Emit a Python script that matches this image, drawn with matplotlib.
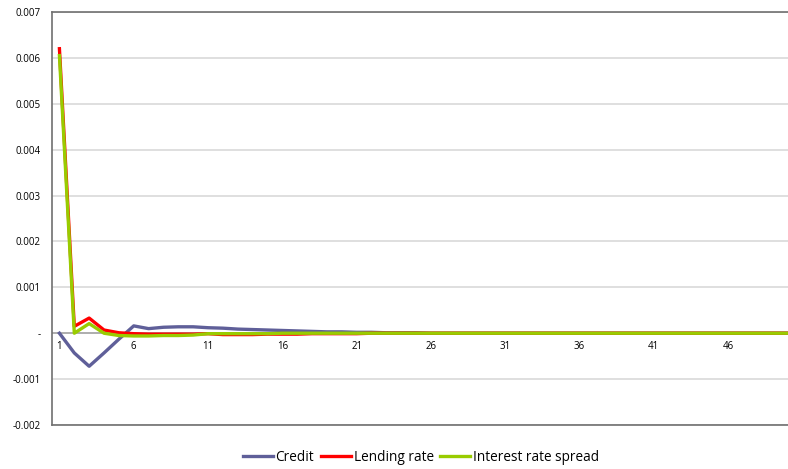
import matplotlib.pyplot as plt
import numpy as np

# impulse responses, periods 1..50
periods = list(range(1, 51))
credit = [0, -0.00043, -0.00072, -0.00043, -0.00013, 0.00016, 0.00010, 0.00013, 0.00014, 0.00014,
          0.00012, 0.00011, 0.00009, 0.00008, 0.00007, 0.00006, 0.00005, 0.00004, 0.00003, 0.00003,
          0.00002, 0.00002, 0.00001, 0.00001, 0.00001, 0, 0, 0, 0, 0,
          0, 0, 0, 0, 0, 0, 0, 0, 0, 0,
          0, 0, 0, 0, 0, 0, 0, 0, 0, 0]
lending = [0.0062, 0.00015, 0.00033, 0.00007, 0.00001, -0.00001, -0.00002, -0.00002, -0.00002, -0.00002,
           -0.00001, -0.00003, -0.00003, -0.00003, -0.00002, -0.00002, -0.00002, -0.00001, -0.00001, -0.00001,
           -0.00001, 0, 0, 0, 0, 0, 0, 0, 0, 0,
           0, 0, 0, 0, 0, 0, 0, 0, 0, 0,
           0, 0, 0, 0, 0, 0, 0, 0, 0, 0]
spread = [0.00605, 0.0, 0.00021, 0.0, -0.00005, -0.00006, -0.00006, -0.00005, -0.00005, -0.00004,
          -0.00001, -0.00001, -0.00001, -0.00001, -0.00001, 0, 0, 0, 0, 0,
          0, 0, 0, 0, 0, 0, 0, 0, 0, 0,
          0, 0, 0, 0, 0, 0, 0, 0, 0, 0,
          0, 0, 0, 0, 0, 0, 0, 0, 0, 0]

yticks = [-0.002, -0.001, 0, 0.001, 0.002, 0.003, 0.004, 0.005, 0.006, 0.007]
ylabels = ['-0.002', '-0.001', '-', '0.001', '0.002', '0.003', '0.004', '0.005', '0.006', '0.007']

plt.rcParams['font.family'] = ['Open Sans', 'DejaVu Sans']

fig = plt.figure(figsize=(7.88, 4.69), dpi=100)
# axes runs past the right edge like the original
ax = fig.add_axes([52/788, 1-425/469, 743/788, 413/469])

for v in yticks:
    if v != 0:
        ax.axhline(v, color='#d9d9d9', lw=1.2, zorder=0)
ax.axhline(0, color='#a0a0a0', lw=1.2, zorder=1)

ax.plot(periods, credit, color='#5f5f99', lw=2.4, label='Credit', zorder=3)
ax.plot(periods, lending, color='#ff0000', lw=2.4, label='Lending rate', zorder=4)
ax.plot(periods, spread, color='#99cc00', lw=2.4, label='Interest rate spread', zorder=5)

ax.set_xlim(0.5, 50.5)
ax.set_ylim(-0.002, 0.007)
ax.set_yticks(yticks)
ax.set_yticklabels(ylabels, fontsize=7)
ax.set_xticks([])
for p in periods[::5]:
    ax.text(p, -0.00028, str(p), ha='center', va='center', fontsize=7)

for s in ['left', 'bottom', 'top']:
    ax.spines[s].set_color('#707070')
    ax.spines[s].set_linewidth(1.2)
ax.spines['right'].set_visible(False)
ax.tick_params(axis='y', length=0, pad=8)

fig.legend(loc='center', bbox_to_anchor=(421/788, 1-457/469), ncol=3, frameon=False,
           fontsize=9.8, handlelength=2.2, handletextpad=0.2, columnspacing=0.5)

plt.savefig('out.png', dpi=100)
